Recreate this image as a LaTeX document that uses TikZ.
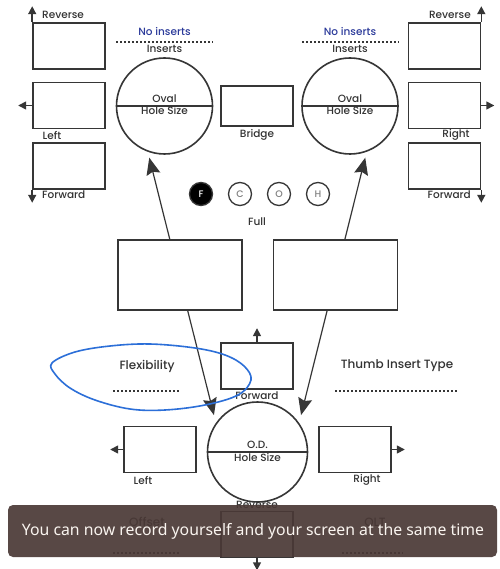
\documentclass[tikz,border=0pt]{standalone}
\usepackage{fontspec}
\setmainfont{Poppins Medium}
\newfontfamily\toastfont{Noto Sans}
\usetikzlibrary{arrows.meta}

\definecolor{ink}{HTML}{363636}
\definecolor{txt}{HTML}{333333}
\definecolor{navy}{HTML}{2B3A9A}
\definecolor{pen}{HTML}{2C6FD8}
\definecolor{toast}{HTML}{4A3936}

\tikzset{
  panel/.style={draw=ink, line width=1.6pt, fill=white, minimum width=72pt, minimum height=46pt, inner sep=0pt},
  dial/.style={draw=ink, line width=1.6pt, circle, minimum size=96pt, inner sep=0pt},
  lbl/.style={text=txt, font=\fontsize{10.5}{11}\selectfont, inner sep=0pt},
  title/.style={text=txt, font=\fontsize{12}{13}\selectfont, inner sep=0pt},
  tip/.style={-{Triangle[length=8pt,width=8pt]}, line width=1.5pt, draw=ink},
  bigtip/.style={{Stealth[length=17pt,width=14pt,inset=2.5pt]}-{Stealth[length=17pt,width=14pt,inset=2.5pt]}, line width=1.2pt, draw=ink, shorten <=6pt, shorten >=8pt},
  pick/.style={circle, draw=ink, line width=1.3pt, minimum size=23pt, inner sep=0pt, text=gray, font=\fontsize{9.5}{9.5}\selectfont},
  under/.style={draw=ink, line width=1.3pt, dash pattern=on 2pt off 2pt},
}

\begin{document}
\begin{tikzpicture}[x=1pt, y=-1pt]
    \useasboundingbox[fill=white] (0,0) rectangle (499,569);

    % top half
    \node[dial] (ovalL) at (164.5,106) {};
    \node[dial] (ovalR) at (350,106) {};
    \draw[ink, line width=1.6pt] (ovalL.west) -- (ovalL.east);
    \draw[ink, line width=1.6pt] (ovalR.west) -- (ovalR.east);
    \node[lbl] (ovalLa) at (164.5,99) {Oval};
    \node[lbl] (ovalLb) at (164.5,111) {Hole Size};
    \node[lbl] (ovalRa) at (350,99) {Oval};
    \node[lbl] (ovalRb) at (350,111) {Hole Size};
    \node[lbl, text=navy] (noinsL) at (164.5,32) {No inserts};
    \node[lbl, text=navy] (noinsR) at (350,32) {No inserts};
    \node[lbl] (insL) at (164.5,49) {Inserts};
    \node[lbl] (insR) at (350,49) {Inserts};
    \draw[under] (116,42) -- (213,42);
    \draw[under] (302,42) -- (399,42);

    \node[panel] (boxLa) at (69,46) {};
    \node[panel] (boxLb) at (69,105.5) {};
    \node[panel] (boxLc) at (69,166) {};
    \node[panel] (boxRa) at (444.5,46) {};
    \node[panel] (boxRb) at (444.5,105.5) {};
    \node[panel] (boxRc) at (444.5,166) {};
    \draw[tip] (boxLa.north west) -- ++(0,-16);
    \draw[tip] (boxLb.west) -- ++(-14,0);
    \draw[tip] (boxLc.south west) -- ++(0,13);
    \draw[tip] (boxRa.north east) -- ++(0,-16);
    \draw[tip] (boxRb.east) -- ++(13,0);
    \draw[tip] (boxRc.south east) -- ++(0,13);
    \node[lbl, anchor=west] (revL) at (42,15) {Reverse};
    \node[lbl] (leftT) at (52,135) {Left};
    \node[lbl, anchor=west] (fwdL) at (42,195) {Forward};
    \node[lbl, anchor=east] (revR) at (471,15) {Reverse};
    \node[lbl] (rightT) at (456,135) {Right};
    \node[lbl, anchor=east] (fwdR) at (471,195) {Forward};

    \node[panel, minimum height=40pt] (bridge) at (257,106) {};
    \node[lbl] (bridgeT) at (257,135) {Bridge};

    \node[pick, fill=black, text=white] (pF) at (201,194) {F};
    \node[pick] (pC) at (240,194) {C};
    \node[pick] (pO) at (279,194) {O};
    \node[pick] (pH) at (318,194) {H};
    \node[lbl] (fullT) at (257,222) {Full};

    % bottom half
    \node[dial, minimum size=100pt] (odC) at (257.5,452) {};
    \draw[ink, line width=1.6pt] (odC.west) -- (odC.east);
    \node[lbl] (odCa) at (257.5,445) {O.D.};
    \node[lbl] (odCb) at (257.5,457) {Hole Size};

    \draw[bigtip] (ovalL.250) -- (odC.145);
    \draw[bigtip] (ovalR.290) -- (odC.35);
    \node[panel, minimum width=124pt, minimum height=70pt] (midL) at (180,275) {};
    \node[panel, minimum width=124pt, minimum height=70pt] (midR) at (335.5,275) {};

    \node[title] (flexT) at (147,366) {Flexibility};
    \node[title] (thumbT) at (397,366) {Thumb Insert Type};
    \draw[under] (113,391) -- (180,391);
    \draw[under] (335,391) -- (458,391);

    \node[panel] (fwdB) at (257,366) {};
    \draw[tip] (fwdB.north) -- ++(0,-14);
    \node[lbl] (fwdT) at (257,396) {Forward};
    \node[panel] (leftB) at (160,449.5) {};
    \draw[tip] (leftB.west) -- ++(-13,0);
    \node[lbl] (leftBT) at (143,480) {Left};
    \node[panel] (rightB) at (355,449.5) {};
    \draw[tip] (rightB.east) -- ++(13,0);
    \node[lbl] (rightBT) at (367,480) {Right};
    \node[lbl] (revT) at (257,505) {Reverse};
    \node[panel] (revB) at (257,534.5) {};
    \draw[tip] (revB.south) -- ++(0,12);
    \node[title] (offT) at (147,522) {Offset};
    \node[title] (oltT) at (375,522) {OLT};
    \draw[under] (113,553) -- (180,553);
    \draw[under] (342,553) -- (403,553);

    \draw[pen, line width=1.6pt] plot[smooth cycle, tension=0.6] coordinates {
        (52,363) (75,352) (110,346) (150,344) (195,348) (225,355) (244,366)
        (251,380) (238,395) (205,405) (165,410) (130,409) (95,400) (70,388) (55,374)};

    % screen recorder toast
    \fill[toast, opacity=0.92, rounded corners=5pt] (8,505) rectangle (497,557);
    \node[text=white!92!brown, font=\toastfont\fontsize{15.8}{17}\selectfont, inner sep=0pt] (toastT) at (253,531) {You can now record yourself and your screen at the same time};
\end{tikzpicture}
\end{document}
